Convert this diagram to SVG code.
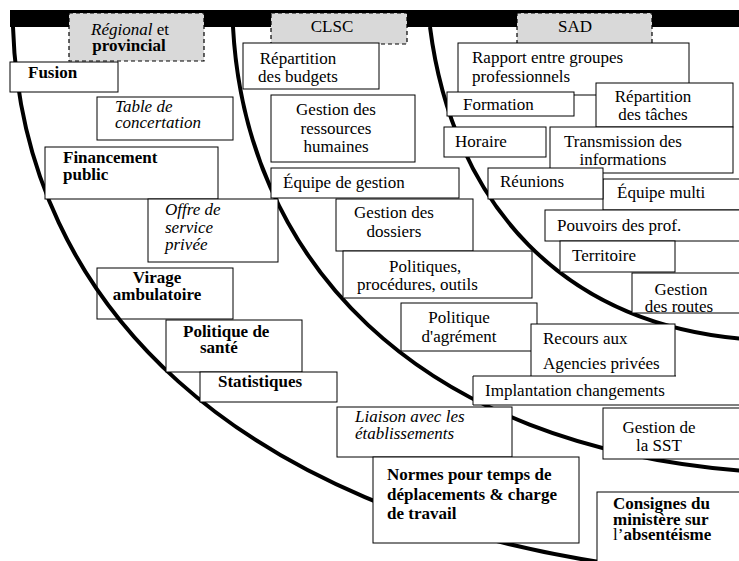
<svg xmlns="http://www.w3.org/2000/svg" width="739" height="561" viewBox="0 0 739 561">
<style>
text{font-family:"Liberation Serif","Times New Roman",serif;font-size:17px;fill:#000}
.b{font-weight:bold}
.i{font-style:italic}
.m{text-anchor:middle}
.box{fill:#fff;stroke:#000;stroke-width:1}
.open{fill:none;stroke:#000;stroke-width:1}
.hdr{fill:#d9d9d9;stroke:#000;stroke-width:1.2;stroke-dasharray:4 3}
.arc{fill:none;stroke:#000;stroke-width:4}
</style>
<rect x="10" y="10" width="735" height="17" fill="#000"/>
<g id="virage"><rect class="open" x="97" y="268" width="136" height="51"/><text class="b m" x="157" y="283">Virage</text><text class="b m" x="157" y="300">ambulatoire</text></g>
<g id="arcs">
<path class="arc" d="M13,27 C22,310 245,510 612,564"/>
<path class="arc" d="M233,27 C245,250 405,450 760,472"/>
<path class="arc" d="M430,27 C452,200 560,330 760,340"/>
</g>
<g id="hdr-regional"><rect class="hdr" x="69" y="13" width="135" height="48"/><text class="m" x="130" y="35"><tspan class="i">Régional</tspan> et</text><text class="b m" x="129" y="51">provincial</text></g>
<g id="hdr-clsc"><rect class="hdr" x="271" y="13" width="136" height="31"/><text class="m" x="332" y="32">CLSC</text></g>
<g id="hdr-sad"><rect class="hdr" x="517" y="13" width="135" height="31"/><text class="m" x="575" y="32">SAD</text></g>
<g id="fusion"><rect class="box" x="10" y="62" width="108" height="30"/><text class="b" x="28" y="78">Fusion</text></g>
<g id="table"><rect class="box" x="97" y="97" width="136" height="43"/><text class="i" x="115" y="112">Table de</text><text class="i" x="115" y="128">concertation</text></g>
<g id="financement"><rect class="box" x="45" y="147" width="173" height="52"/><text class="b" x="63" y="163">Financement</text><text class="b" x="63" y="180">public</text></g>
<g id="offre"><rect class="box" x="148" y="199" width="130" height="63"/><text class="i" x="165" y="215">Offre de</text><text class="i" x="165" y="233">service</text><text class="i" x="165" y="250">privée</text></g>
<g id="politique-sante"><rect class="box" x="166" y="320" width="136" height="52"/><text class="b" x="183" y="337">Politique de</text><text class="b" x="200" y="353">santé</text></g>
<g id="statistiques"><rect class="box" x="200" y="372" width="137" height="30"/><text class="b" x="218" y="387">Statistiques</text></g>
<g id="repartition-budgets"><rect class="box" x="243" y="43" width="136" height="46"/><text class="m" x="298" y="64">Répartition</text><text class="m" x="298" y="82">des budgets</text></g>
<g id="grh"><rect class="box" x="271" y="95" width="144" height="67"/><text class="m" x="336" y="115">Gestion des</text><text class="m" x="336" y="134">ressources</text><text class="m" x="336" y="152">humaines</text></g>
<g id="equipe-gestion"><rect class="box" x="271" y="168" width="188" height="30"/><text x="283" y="188">Équipe de gestion</text></g>
<g id="dossiers"><rect class="box" x="336" y="199" width="137" height="52"/><text class="m" x="394" y="218">Gestion des</text><text class="m" x="394" y="237">dossiers</text></g>
<g id="politiques"><rect class="box" x="343" y="251" width="189" height="47"/><text x="389" y="272">Politiques,</text><text x="357" y="290">procédures, outils</text></g>
<g id="agrement"><rect class="box" x="401" y="303" width="136" height="48"/><text class="m" x="459" y="323">Politique</text><text class="m" x="459" y="342">d'agrément</text></g>
<g id="rapport"><rect class="box" x="458" y="43" width="231" height="52"/><text x="472" y="63">Rapport entre groupes</text><text x="472" y="82">professionnels</text></g>
<g id="formation"><rect class="box" x="447" y="92" width="127" height="24"/><text x="463" y="110">Formation</text></g>
<g id="repartition-taches"><rect class="box" x="596" y="83" width="137" height="44"/><text class="m" x="653" y="102">Répartition</text><text class="m" x="653" y="120">des tâches</text></g>
<g id="horaire"><rect class="box" x="444" y="127" width="102" height="30"/><text x="455" y="147">Horaire</text></g>
<g id="transmission"><rect class="box" x="550" y="127" width="183" height="46"/><text class="m" x="623" y="147">Transmission des</text><text class="m" x="623" y="165">informations</text></g>
<g id="equipe-multi"><rect class="box" x="603" y="179" width="150" height="31"/><text x="617" y="198">Équipe multi</text></g>
<g id="reunions"><rect class="box" x="488" y="168" width="115" height="31"/><text x="500" y="187">Réunions</text></g>
<g id="pouvoirs"><rect class="box" x="545" y="210" width="200" height="31"/><text x="557" y="231">Pouvoirs des prof.</text></g>
<g id="territoire"><rect class="box" x="560" y="241" width="115" height="31"/><text x="572" y="261">Territoire</text></g>
<g id="routes"><rect class="box" x="632" y="273" width="120" height="40"/><text class="m" x="681" y="295">Gestion</text><text class="m" x="679" y="312">des routes</text></g>
<g id="recours"><rect class="box" x="531" y="324" width="144" height="53"/><text x="543" y="344">Recours aux</text><text x="543" y="369">Agencies privées</text></g>
<g id="implantation"><rect x="473" y="376" width="272" height="29" fill="#fff"/><path class="open" d="M676,376 H473 V405 H745"/><text x="485" y="396">Implantation changements</text></g>
<g id="liaison"><rect class="box" x="337" y="407" width="175" height="50"/><text class="i" x="355" y="422">Liaison avec les</text><text class="i" x="355" y="439">établissements</text></g>
<g id="sst"><rect class="box" x="603" y="408" width="150" height="51"/><text class="m" x="659" y="433">Gestion de</text><text class="m" x="659" y="451">la SST</text></g>
<g id="normes"><rect class="box" x="373" y="457" width="206" height="86"/><text class="b" x="387" y="480">Normes pour temps de</text><text class="b" x="387" y="500">déplacements &amp; charge</text><text class="b" x="387" y="519">de travail</text></g>
<g id="consignes"><rect class="box" x="597" y="492" width="150" height="80"/><text class="b" x="613" y="509">Consignes du</text><text class="b" x="613" y="525">ministère sur</text><text class="b" x="613" y="540"><tspan font-weight="normal">l’</tspan>absentéisme</text></g>
</svg>
